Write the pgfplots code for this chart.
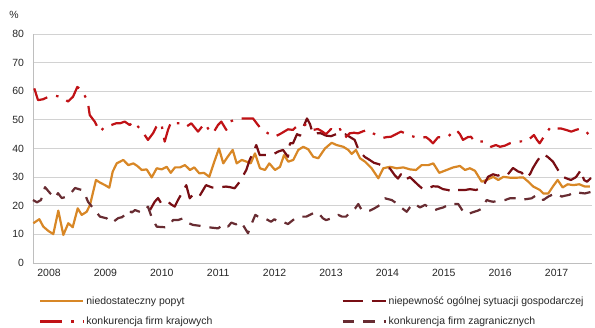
\documentclass[border=0pt]{standalone}
\usepackage{pgfplots}
\pgfplotsset{compat=1.18}
\usepackage{fontspec}
\setmainfont{Liberation Sans}
\definecolor{cpopyt}{RGB}{216,135,38}
\definecolor{cniep}{RGB}{120,14,20}
\definecolor{ckraj}{RGB}{192,18,22}
\definecolor{czagr}{RGB}{104,44,50}
\definecolor{cgrid}{RGB}{210,210,210}
\definecolor{caxis}{RGB}{190,190,190}
\begin{document}
\begin{tikzpicture}
\useasboundingbox (-33bp,-65bp) rectangle (562bp,263bp);
\begin{axis}[
  at={(0,0)}, anchor=south west,
  scale only axis, width=559bp, height=229bp,
  xmin=2007.716, xmax=2017.628, ymin=0, ymax=80,
  ytick={0,10,...,80},
  xtick={2008,2009,2010,2011,2012,2013,2014,2015,2016,2017},
  xticklabels={2008,2009,2010,2011,2012,2013,2014,2015,2016,2017},
  axis x line*=bottom, axis y line*=left,
  axis line style={caxis, line width=0.8pt, -},
  major tick length=0pt,
  ymajorgrids, grid style={cgrid, line width=0.9pt},
  tick label style={font=\fontsize{10.5}{12.6}\selectfont, text=black!85},
  /pgf/number format/assume math mode=true,
  yticklabel style={xshift=-5.5bp},
  xticklabel style={yshift=-3bp},
  clip=false,
  legend columns=2,
  legend cell align=left,
  legend style={at={(0,0)}, anchor=north west, xshift=6bp, yshift=-31.5bp, draw=none, fill=none, inner sep=0pt,
    font=\fontsize{10.5}{12.6}\selectfont, text=black!85, row sep=7bp,
    /tikz/every even column/.append style={column sep=127bp}},
  legend image code/.code={\draw[#1] (0bp,0bp) -- (43bp,0bp);},
  every axis plot/.append style={line width=2.2bp, line join=round, no marks},
]
\node[font=\fontsize{10.5}{12.6}\selectfont, text=black!85] at (rel axis cs:0,1) [xshift=-19bp, yshift=19bp] {\%};

\addplot[cpopyt] coordinates {
(2007.722,13.9)(2007.828,15.3)(2007.899,12.7)(2007.988,11.2)(2008.076,10.1)(2008.165,18.3)(2008.254,9.8)(2008.342,13.9)(2008.420,12.5)(2008.509,19.1)(2008.580,16.8)(2008.668,17.9)(2008.727,20.3)(2008.833,29)(2008.904,28.1)(2008.993,27.2)(2009.069,26.3)(2009.129,31.9)(2009.200,34.8)(2009.317,36)(2009.406,34.2)(2009.495,34.8)(2009.566,33.9)(2009.644,32.5)(2009.732,32.7)(2009.821,29.9)(2009.910,33.1)(2009.998,32.7)(2010.087,33.6)(2010.158,31.5)(2010.234,33.4)(2010.323,33.4)(2010.411,34.2)(2010.500,32.5)(2010.576,33.4)(2010.665,31.3)(2010.748,31.5)(2010.842,30.1)(2010.931,35.4)(2011.014,40)(2011.090,34.8)(2011.168,37.1)(2011.257,39.5)(2011.328,34.8)(2011.417,36)(2011.505,35.4)(2011.576,34.8)(2011.652,38.3)(2011.741,33.1)(2011.830,32.5)(2011.906,34.8)(2012.007,32.5)(2012.096,33.6)(2012.167,37.7)(2012.243,35.4)(2012.331,36)(2012.420,39.5)(2012.509,40.6)(2012.597,39.7)(2012.686,37.1)(2012.775,36.6)(2012.893,40)(2013.012,42)(2013.101,41.2)(2013.218,40.6)(2013.307,39.5)(2013.367,38.1)(2013.443,39.5)(2013.514,36.6)(2013.603,35.4)(2013.721,33.1)(2013.839,29.6)(2013.927,33.1)(2014.046,33.6)(2014.165,33.1)(2014.282,33.4)(2014.401,32.7)(2014.507,32.5)(2014.608,34.2)(2014.725,34.2)(2014.814,34.8)(2014.920,31.5)(2015.051,32.5)(2015.168,33.4)(2015.287,33.9)(2015.376,32.5)(2015.464,33.1)(2015.553,32.2)(2015.672,28.4)(2015.760,29)(2015.877,30.1)(2015.966,29)(2016.055,30.1)(2016.174,29.8)(2016.292,29.8)(2016.409,29.9)(2016.498,28.4)(2016.587,26.7)(2016.705,25.5)(2016.764,24.3)(2016.853,24.3)(2016.941,26.9)(2017.019,29)(2017.108,26.4)(2017.197,27.5)(2017.296,27.2)(2017.402,27.5)(2017.503,26.7)(2017.592,26.7)
};
\addlegendentry{niedostateczny popyt}

\addplot[cniep, dash pattern=on 20bp off 9bp] coordinates {
(2009.791,18.5)(2009.874,21.4)(2009.933,22.7)(2009.991,20.8)(2010.051,21.4)(2010.110,21.4)(2010.163,20.5)(2010.229,19.7)(2010.287,22)(2010.358,24.5)(2010.434,27.2)(2010.495,22.6)(2010.571,24.3)(2010.672,23.5)(2010.784,27.2)(2010.890,26.4)(2010.996,26.4)(2011.138,26.7)(2011.209,26.5)(2011.292,26.1)(2011.386,28.5)(2011.498,32.5)(2011.558,36)(2011.617,38.5)(2011.675,41.2)(2011.736,37.7)(2011.830,37.7)(2011.941,37.7)(2012.007,38.3)(2012.060,38.9)(2012.149,39.5)(2012.237,37.1)(2012.273,41.8)(2012.326,41.8)(2012.397,45)(2012.450,44.5)(2012.521,48)(2012.574,50.5)(2012.628,48.5)(2012.681,45)(2012.752,45.3)(2012.823,45.3)(2012.911,44.5)(2013.000,44.3)(2013.089,45)(2013.177,45.3)(2013.248,45)(2013.337,44)(2013.420,43)(2013.479,40)(2013.537,38.3)(2013.603,37)(2013.686,36)(2013.762,35)(2013.851,34.5)(2013.952,33.6)(2014.046,33)(2014.129,30.7)(2014.188,29.5)(2014.241,31)(2014.307,29)(2014.401,30)(2014.484,28.4)(2014.560,27)(2014.631,25.8)(2014.720,26.1)(2014.808,26.8)(2014.897,26.7)(2014.986,25.8)(2015.074,25.5)(2015.163,24.9)(2015.252,25.5)(2015.376,25.5)(2015.464,25.8)(2015.571,25.5)(2015.659,26.2)(2015.730,28)(2015.784,30.1)(2015.872,31)(2015.961,30.5)(2016.049,31.3)(2016.138,31)(2016.227,33.2)(2016.315,32)(2016.386,31.5)(2016.439,29.7)(2016.528,31)(2016.581,33.2)(2016.652,35.5)(2016.705,37)(2016.759,38.1)(2016.847,37)(2016.936,35.4)(2017.025,32.5)(2017.113,30.1)(2017.184,29.5)(2017.255,29)(2017.344,30)(2017.432,32.5)(2017.486,29)(2017.539,28.4)(2017.610,29.7)
};
\addlegendentry{niepewność ogólnej sytuacji gospodarczej}

\addplot[ckraj, dash pattern=on 22bp off 9bp on 2.5bp off 9bp] coordinates {
(2007.739,61)(2007.805,56.9)(2007.894,57.2)(2007.982,58)(2008.101,58.4)(2008.218,58.1)(2008.337,56.4)(2008.426,58.1)(2008.502,61.5)(2008.573,60.5)(2008.661,57.5)(2008.691,55.8)(2008.722,51.7)(2008.810,49.4)(2008.899,45.9)(2009.011,47.9)(2009.105,48.2)(2009.188,48.8)(2009.259,48.8)(2009.342,49.4)(2009.431,48.2)(2009.489,49.4)(2009.636,46.5)(2009.755,43)(2009.844,45.3)(2009.902,47.6)(2009.991,48.8)(2010.051,42.4)(2010.110,46.5)(2010.168,49.4)(2010.252,48.8)(2010.346,48.8)(2010.434,47.6)(2010.523,48.8)(2010.642,45.9)(2010.761,48.8)(2010.819,47)(2010.908,45.3)(2010.996,48.2)(2011.055,49.4)(2011.144,46.5)(2011.204,49.4)(2011.321,50.2)(2011.404,50.5)(2011.498,50.5)(2011.617,50.5)(2011.706,48.2)(2011.753,47)(2011.883,45.3)(2012.002,44.1)(2012.119,45.3)(2012.237,46.7)(2012.326,46.5)(2012.415,48.2)(2012.503,48.5)(2012.592,48)(2012.681,46.5)(2012.769,46.8)(2012.840,46)(2012.911,45)(2013.000,46.8)(2013.089,45.8)(2013.159,46.8)(2013.248,43.7)(2013.331,45.3)(2013.408,45.5)(2013.479,45.3)(2013.567,46)(2013.656,46.5)(2013.745,45.3)(2013.833,44.5)(2013.922,43.7)(2013.993,44)(2014.064,44.1)(2014.152,45)(2014.241,45.9)(2014.312,45.3)(2014.365,44.7)(2014.489,44)(2014.601,43.7)(2014.684,44)(2014.750,43)(2014.808,41.8)(2014.897,43.9)(2014.986,44)(2015.074,44.1)(2015.145,45.5)(2015.221,46.5)(2015.287,45)(2015.340,43)(2015.429,44)(2015.482,44.1)(2015.548,42.4)(2015.624,42.5)(2015.725,42.4)(2015.837,40.6)(2015.925,41.2)(2015.996,40.6)(2016.085,41)(2016.168,41.8)(2016.285,42.4)(2016.386,42.5)(2016.457,42.4)(2016.528,43.5)(2016.599,44.7)(2016.652,43)(2016.700,41.8)(2016.812,45.3)(2016.900,47.6)(2016.989,47)(2017.078,47)(2017.166,46.5)(2017.261,45.9)(2017.344,46.5)(2017.432,47)(2017.521,45.9)(2017.610,44.1)
};
\addlegendentry{konkurencja firm krajowych}

\addplot[czagr, dash pattern=on 11.5bp off 9bp] coordinates {
(2007.716,22)(2007.787,21.2)(2007.858,22)(2007.929,26.5)(2008.018,24.4)(2008.106,22.7)(2008.160,24.4)(2008.225,22.7)(2008.284,23)(2008.372,24)(2008.461,26.2)(2008.580,25.5)(2008.638,24)(2008.691,21.4)(2008.780,19.2)(2008.904,16.2)(2009.023,15.6)(2009.112,14)(2009.229,15.7)(2009.294,16)(2009.365,17.1)(2009.418,18.5)(2009.466,17.6)(2009.525,18.5)(2009.644,17.6)(2009.702,18.5)(2009.755,19.7)(2009.826,15.6)(2009.910,12.7)(2009.968,12.6)(2010.057,12.5)(2010.145,13.5)(2010.199,15)(2010.287,15)(2010.376,15.6)(2010.464,14)(2010.553,13.3)(2010.672,13)(2010.748,12.8)(2010.819,12.5)(2010.908,12.3)(2010.996,12.1)(2011.115,13.6)(2011.174,12.7)(2011.232,14.1)(2011.316,13.5)(2011.399,14.4)(2011.457,12.7)(2011.528,10.4)(2011.599,14)(2011.658,16.8)(2011.741,15.8)(2011.824,15.6)(2011.883,15)(2011.936,14.4)(2011.998,15.3)(2012.060,14.4)(2012.149,14.4)(2012.237,13.6)(2012.326,15)(2012.415,16.2)(2012.486,16.2)(2012.562,16.2)(2012.645,17)(2012.739,17.9)(2012.805,16.8)(2012.858,15.6)(2012.911,15)(2013.012,15.6)(2013.071,16.3)(2013.129,16.8)(2013.195,16.2)(2013.266,16.2)(2013.354,17.9)(2013.425,19)(2013.484,20.6)(2013.544,18.5)(2013.620,18)(2013.691,18.3)(2013.762,19)(2013.839,19.9)(2013.904,21)(2013.957,22.6)(2014.076,22)(2014.152,21)(2014.223,19.7)(2014.342,17.9)(2014.401,19.5)(2014.471,20.8)(2014.578,19.4)(2014.666,20.3)(2014.755,19.3)(2014.844,18.5)(2014.915,19)(2014.991,19.4)(2015.110,20.6)(2015.181,20.6)(2015.257,20.6)(2015.345,17.9)(2015.429,17)(2015.494,17.6)(2015.606,18.3)(2015.677,19)(2015.760,22)(2015.819,21.6)(2015.877,21.4)(2015.996,21.8)(2016.085,22)(2016.174,22.6)(2016.262,22.6)(2016.351,22)(2016.457,22.3)(2016.558,22.6)(2016.647,23.8)(2016.705,23)(2016.764,22)(2016.853,23.2)(2016.918,23.8)(2017.001,24.3)(2017.090,23.2)(2017.149,23.5)(2017.225,23.8)(2017.326,24.9)(2017.415,24.5)(2017.503,24.3)(2017.622,24.9)
};
\addlegendentry{konkurencja firm zagranicznych}
\end{axis}
\end{tikzpicture}
\end{document}
